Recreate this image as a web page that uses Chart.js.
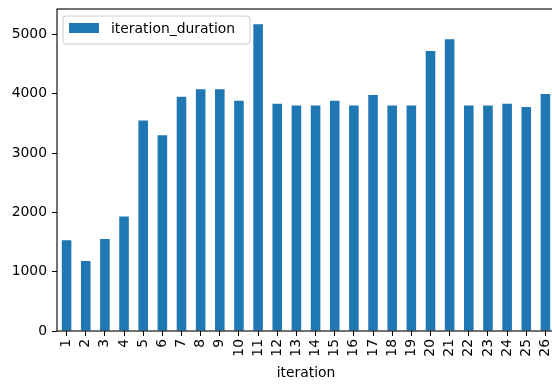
<!DOCTYPE html>
<html>
<head>
<meta charset="utf-8">
<script src="https://cdn.jsdelivr.net/npm/chart.js@4/dist/chart.umd.min.js"></script>
<style>
  html, body { margin: 0; padding: 0; background: #fff; overflow: hidden; }
  #wrap { width: 556px; height: 385px; position: relative; }
</style>
</head>
<body>
<div id="wrap"><canvas id="durationChart"></canvas></div>
<script>
/* ---- data ---- */
const iterations = ['1','2','3','4','5','6','7','8','9','10','11','12','13',
                    '14','15','16','17','18','19','20','21','22','23','24','25','26'];
const iterationDuration = [1530, 1180, 1550, 1930, 3550, 3300, 3950, 4075, 4075, 3880,
                           5170, 3830, 3800, 3800, 3880, 3800, 3980, 3800, 3800, 4720,
                           4920, 3800, 3800, 3830, 3775, 3995];
const yTicks = [0, 1000, 2000, 3000, 4000, 5000];

const BAR_BLUE = '#1f77b4';
const FONT = { family: "'DejaVu Sans', sans-serif", size: 13.9 };

Chart.defaults.font.family = FONT.family;
Chart.defaults.color = '#000';

// frame around the plot area plus a matplotlib-style legend in the corner
const framePlugin = {
  id: 'frameAndLegend',
  afterDraw(chart) {
    const { ctx, chartArea: a } = chart;
    ctx.save();
    ctx.strokeStyle = '#000';
    ctx.lineWidth = 1.1;
    ctx.strokeRect(a.left, a.top, a.right - a.left, a.bottom - a.top);

    // legend box
    const x = a.left + 6, y = a.top + 7, w = 187, h = 28, r = 3;
    ctx.beginPath();
    ctx.roundRect(x, y, w, h, r);
    ctx.fillStyle = 'rgba(255,255,255,0.8)';
    ctx.fill();
    ctx.strokeStyle = '#cccccc';
    ctx.lineWidth = 1;
    ctx.stroke();

    ctx.fillStyle = BAR_BLUE;
    ctx.fillRect(x + 6, y + 7, 30, 10);

    ctx.fillStyle = '#000';
    ctx.font = FONT.size + 'px ' + FONT.family;
    ctx.textBaseline = 'middle';
    ctx.textAlign = 'left';
    ctx.fillText(chart.data.datasets[0].label, x + 48, y + 13);
    ctx.restore();
  }
};

new Chart(document.getElementById('durationChart'), {
  type: 'bar',
  data: {
    labels: iterations,
    datasets: [{
      label: 'iteration_duration',
      data: iterationDuration,
      backgroundColor: BAR_BLUE,
      borderWidth: 0,
      categoryPercentage: 1.0,
      barPercentage: 0.5,
    }]
  },
  options: {
    responsive: true,
    maintainAspectRatio: false,
    animation: false,
    layout: { padding: { top: 9, right: 1, left: 0, bottom: 0 } },
    plugins: {
      legend: { display: false },
      tooltip: { enabled: false }
    },
    scales: {
      x: {
        afterFit: (scale) => {
          scale.height = 54;
          scale.paddingLeft = 0;
          scale.paddingRight = 0;
        },
        grid: {
          offset: false,
          drawOnChartArea: false,
          drawTicks: true,
          tickLength: 5,
          tickColor: '#000',
          color: '#000'
        },
        border: { display: false },
        ticks: {
          autoSkip: false,
          maxRotation: 90,
          minRotation: 90,
          padding: 3,
          font: FONT,
          color: '#000'
        },
        title: {
          display: true,
          text: 'iteration',
          font: FONT,
          color: '#000',
          padding: { top: 0, bottom: 3 }
        }
      },
      y: {
        min: 0,
        max: Math.max(...iterationDuration) * 1.05,
        afterFit: (scale) => {
          scale.width = 57;
          scale.paddingTop = 0;
          scale.paddingBottom = 0;
        },
        afterBuildTicks: (scale) => { scale.ticks = yTicks.map(v => ({ value: v })); },
        grid: {
          drawOnChartArea: false,
          drawTicks: true,
          tickLength: 5,
          tickColor: '#000',
          color: '#000'
        },
        border: { display: false },
        ticks: {
          padding: 5,
          font: FONT,
          color: '#000',
          callback: (v) => String(v)
        }
      }
    }
  },
  plugins: [framePlugin]
});
</script>
</body>
</html>
